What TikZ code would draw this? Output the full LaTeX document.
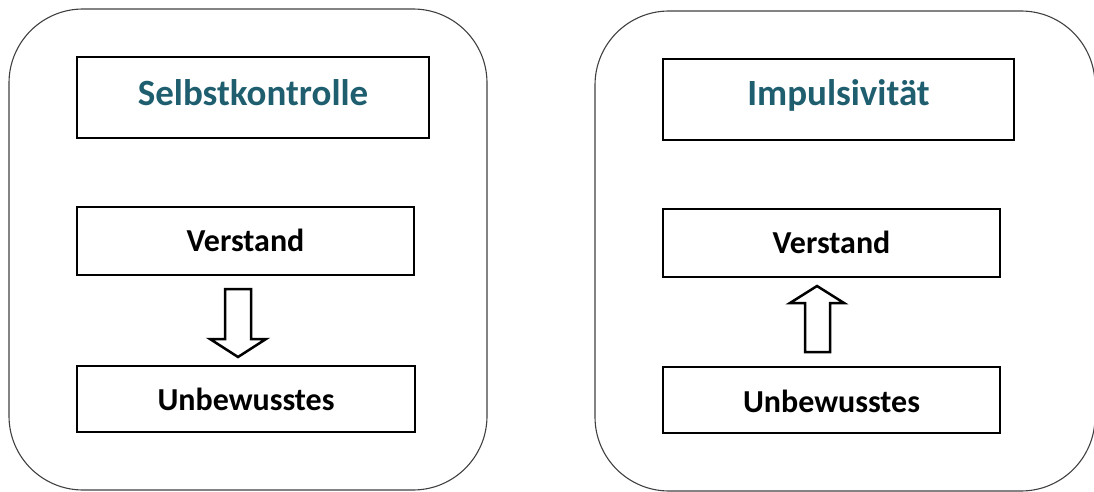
\documentclass[tikz,border=0pt]{standalone}
\usepackage{fontspec}
\setmainfont{Carlito}
\definecolor{titleteal}{HTML}{1F5E6E}
\definecolor{framegray}{HTML}{404040}
\begin{document}
\begin{tikzpicture}[x=1pt,y=-1pt,
  panel/.style={draw=framegray,line width=1.1pt,rounded corners=74pt},
  itembox/.style={draw=black,line width=2.8pt,fill=white},
  titletext/.style={text=titleteal,font=\bfseries\fontsize{37}{42}\selectfont},
  itemtext/.style={text=black,font=\bfseries\fontsize{32}{36}\selectfont},
  blockarrow/.style={draw=black,line width=2.5pt,fill=white,line join=miter}]
\useasboundingbox (0,0) rectangle (1094,492);
\clip (0,0) rectangle (1094,492);

% left panel: Selbstkontrolle
\draw[panel] (9,9) rectangle (487,490);
\draw[itembox] (77,57) rectangle (429,138);
\node[titletext] (lt) at (253,93) {Selbstkontrolle};
\draw[itembox] (77,207) rectangle (414,275);
\node[itemtext] (lv) at (245.5,240) {Verstand};
\draw[itembox] (77,366) rectangle (415,432);
\node[itemtext] (lu) at (246,399) {Unbewusstes};
% downward block arrow
\draw[blockarrow] (225,289) -- (251,289) -- (251,339) -- (266,339)
  -- (238,357) -- (210,339) -- (225,339) -- cycle;

% right panel: Impulsivität
\draw[panel] (595,11) rectangle (1095,491);
\draw[itembox] (663,59) rectangle (1014,140);
\node[titletext] (rt) at (838.5,95) {Impulsivität};
\draw[itembox] (663,209) rectangle (1000,277);
\node[itemtext] (rv) at (831.5,242) {Verstand};
\draw[itembox] (663,367) rectangle (1000,433);
\node[itemtext] (ru) at (831.5,401) {Unbewusstes};
% upward block arrow
\draw[blockarrow] (805,352) -- (830,352) -- (830,303) -- (844,303)
  -- (817,286) -- (790,303) -- (805,303) -- cycle;
\end{tikzpicture}
\end{document}
